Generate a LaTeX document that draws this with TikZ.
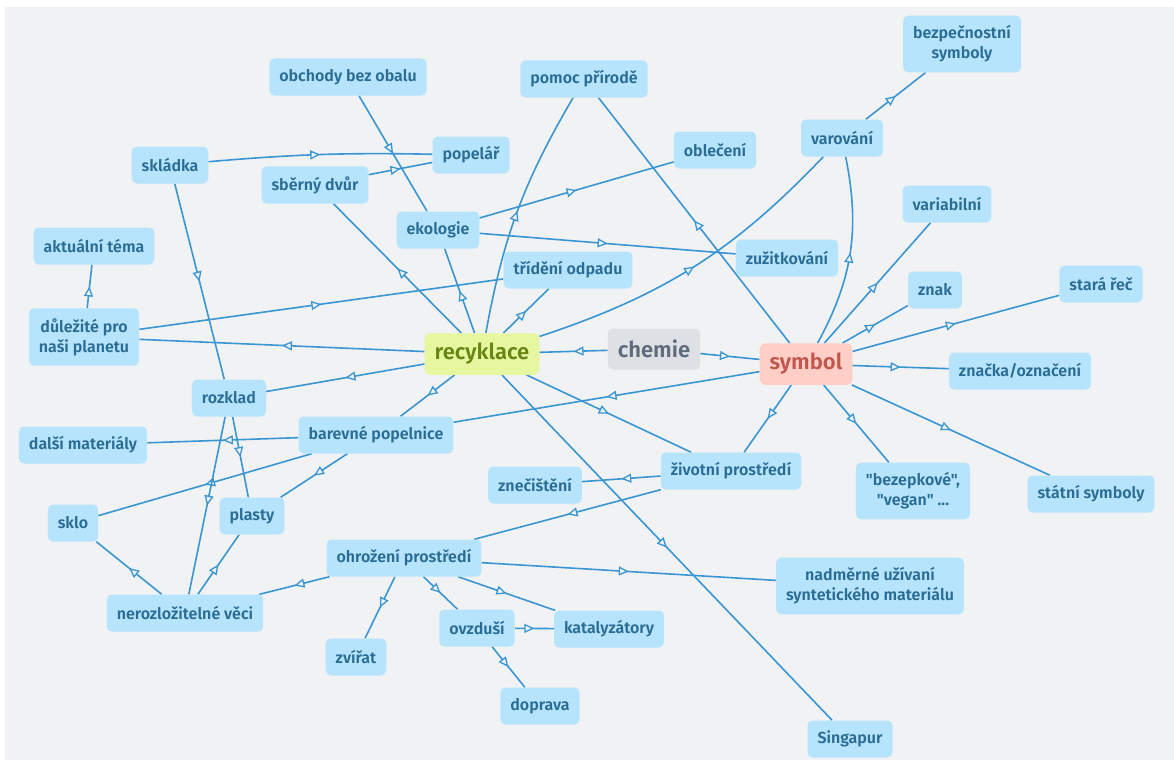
\documentclass[tikz,border=0pt]{standalone}
\usepackage{fontspec}
\setmainfont{Fira Sans}[BoldFont={Fira Sans SemiBold}, Ligatures=TeXOff]
\usepackage{xcolor}
\definecolor{bggray}{RGB}{241,242,244}
\definecolor{topicfill}{RGB}{182,228,252}
\definecolor{topictext}{RGB}{42,108,148}
\definecolor{linkblue}{RGB}{58,150,210}
\definecolor{recyfill}{RGB}{230,247,160}
\definecolor{recytext}{RGB}{104,134,20}
\definecolor{chemfill}{RGB}{221,224,228}
\definecolor{chemtext}{RGB}{95,106,122}
\definecolor{symbfill}{RGB}{255,206,198}
\definecolor{symbtext}{RGB}{192,86,76}
\usetikzlibrary{arrows.meta, decorations.markings}
\pgfdeclarelayer{back}
\pgfdeclarelayer{links}
\pgfsetlayers{back,links,main}

\begin{document}
\begin{tikzpicture}[x=1pt, y=-1pt,
  topic/.style={rounded corners=5pt, fill=topicfill, text=topictext,
    font=\fontsize{16}{20}\selectfont\bfseries, inner xsep=10pt, inner ysep=10pt,
    minimum height=37pt, align=center},
  core/.style={topic, font=\fontsize{22}{26}\selectfont\bfseries, minimum height=41pt},
  link/.style={linkblue, line width=1.6pt, postaction={decorate},
    decoration={markings, mark=at position 0.5 with
      {\arrow{Triangle[length=10pt, width=9pt, fill=bggray, line width=1.3pt]}}}}]

  % Canvas
  \useasboundingbox (0,0) rectangle (1174,760);
  \begin{pgfonlayer}{back}
    \fill[white] (0,0) rectangle (1174,760);
    \fill[bggray] (5,7) rectangle (1174,760);
  \end{pgfonlayer}

  % Central topics
  \node[core, fill=chemfill, text=chemtext] (chem) at (654,349) {chemie};
  \node[core, fill=recyfill, text=recytext] (recy) at (482,354) {recyklace};
  \node[core, fill=symbfill, text=symbtext] (symb) at (806,364) {symbol};

  % Upper row
  \node[topic] (obchody) at (348,77) {obchody bez obalu};
  \node[topic] (pomoc) at (584,79) {pomoc přírodě};
  \node[topic] (bezpec) at (962,44) {bezpečnostní\\symboly};
  \node[topic] (skladka) at (170,165) {skládka};
  \node[topic] (popelar) at (471,155) {popelář};
  \node[topic] (sberny) at (315,185) {sběrný dvůr};
  \node[topic] (obleceni) at (715,150) {oblečení};
  \node[topic] (varovani) at (842,138) {varování};
  \node[topic] (ekologie) at (438,230) {ekologie};
  \node[topic] (aktualni) at (94,246) {aktuální téma};
  \node[topic] (trideni) at (568,270) {třídění odpadu};
  \node[topic] (zuzitk) at (787,258) {zužitkování};
  \node[topic] (variab) at (947,204) {variabilní};
  \node[topic] (znak) at (935,290) {znak};
  \node[topic] (stara) at (1101,284) {stará řeč};

  % Middle row
  \node[topic] (dulezite) at (84,337) {důležité pro\\naši planetu};
  \node[topic] (rozklad) at (229,398) {rozklad};
  \node[topic] (znacka) at (1020,371) {značka/označení};
  \node[topic] (dalsi) at (83,445) {další materiály};
  \node[topic] (barevne) at (376,435) {barevné popelnice};
  \node[topic] (znecist) at (535,485) {znečištění};
  \node[topic] (zivotni) at (731,471) {životní prostředí};
  \node[topic] (bezepk) at (913,491) {"bezepkové",\\"vegan" ...};
  \node[topic] (statni) at (1091,494) {státní symboly};

  % Lower row
  \node[topic] (sklo) at (73,523) {sklo};
  \node[topic] (plasty) at (252,516) {plasty};
  \node[topic] (ohrozeni) at (404,558) {ohrožení prostředí};
  \node[topic] (nadmerne) at (870,586) {nadměrné užívaní\\syntetického materiálu};
  \node[topic] (nerozl) at (185,613) {nerozložitelné věci};
  \node[topic] (ovzdusi) at (477,628) {ovzduší};
  \node[topic] (katal) at (609,629) {katalyzátory};
  \node[topic] (zvirat) at (356,657) {zvířat};
  \node[topic] (doprava) at (540,706) {doprava};
  \node[topic] (singapur) at (850,739) {Singapur};

  \begin{pgfonlayer}{links}
    % From chemie
    \draw[link] (chem) -- (recy);
    \draw[link] (chem) -- (symb);

    % From recyklace
    \draw[link] (recy) -- (trideni);
    \draw[link] (recy) to[bend left=10] (pomoc);
    \draw[link] (recy) -- (ekologie);
    \draw[link] (recy) -- (sberny);
    \draw[link] (recy) -- (dulezite);
    \draw[link] (recy) -- (rozklad);
    \draw[link] (recy) -- (barevne);
    \draw[link] (recy) to[bend right=14] (varovani);
    \draw[link] (recy) -- (singapur);
    \draw[link] (recy) -- (zivotni);

    % From symbol
    \draw[link] (symb) -- (barevne);
    \draw[link] (symb) -- (pomoc);
    \draw[link] (symb) to[bend right=20] (varovani);
    \draw[link] (symb) -- (variab);
    \draw[link] (symb) -- (znak);
    \draw[link] (symb) -- (stara);
    \draw[link] (symb) -- (znacka);
    \draw[link] (symb) -- (statni);
    \draw[link] (symb) -- (bezepk);
    \draw[link] (symb) -- (zivotni);
    \draw[link] (varovani) -- (bezpec);

    % Upper left cluster
    \draw[link] (ekologie) -- (obleceni);
    \draw[link] (ekologie) -- (zuzitk);
    \draw[link] (obchody) -- (ekologie);
    \draw[link] (skladka) to[bend left=3] (popelar);
    \draw[link] (sberny) -- (popelar);
    \draw[link] (skladka) -- (rozklad);
    \draw[link] (dulezite) -- (aktualni);
    \draw[link] (dulezite) -- (trideni);

    % Lower left cluster
    \draw[link] (barevne) -- (dalsi);
    \draw[link] (barevne) -- (sklo);
    \draw[link] (barevne) -- (plasty);
    \draw[link] (rozklad) -- (nerozl);
    \draw[link] (rozklad) -- (plasty);
    \draw[link] (nerozl) -- (sklo);
    \draw[link] (nerozl) -- (plasty);

    % Environment cluster
    \draw[link] (zivotni) -- (znecist);
    \draw[link] (zivotni) -- (ohrozeni);
    \draw[link] (ohrozeni) -- (nerozl);
    \draw[link] (ohrozeni) -- (zvirat);
    \draw[link] (ohrozeni) -- (ovzdusi);
    \draw[link] (ohrozeni) -- (katal);
    \draw[link] (ohrozeni) -- (nadmerne);
    \draw[link] (ovzdusi) -- (katal);
    \draw[link] (ovzdusi) -- (doprava);
  \end{pgfonlayer}
\end{tikzpicture}
\end{document}
